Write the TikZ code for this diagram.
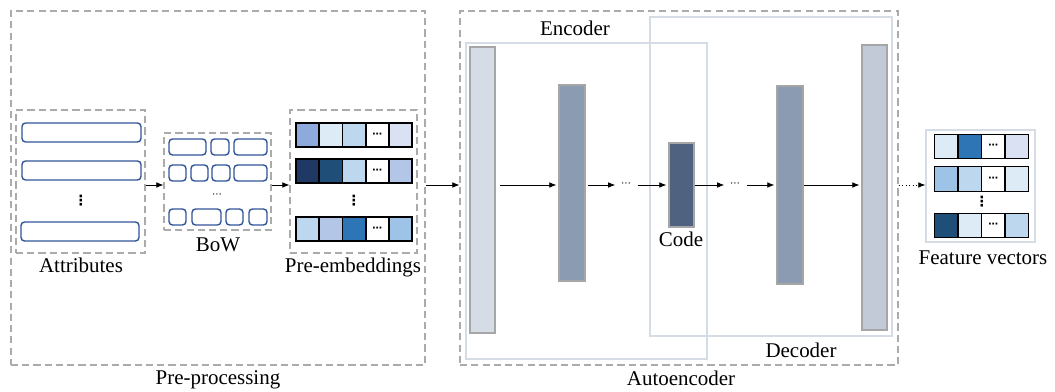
\documentclass[tikz,border=0pt]{standalone}
\usepackage{fontspec}
\setmainfont{Liberation Serif}
\newfontfamily\dotsfont{DejaVu Sans}
\usetikzlibrary{calc,fit,arrows.meta}

\definecolor{dashgray}{HTML}{ABABAB}
\definecolor{aeline}{HTML}{D6DCE5}
\definecolor{wordblue}{HTML}{2F5597}
\definecolor{layergray}{HTML}{A6A6A6}
\definecolor{inlayer}{HTML}{D6DCE5}
\definecolor{hidlayer}{HTML}{8A9BB2}
\definecolor{codelayer}{HTML}{4F6280}
\definecolor{outlayer}{HTML}{C1CAD6}
\definecolor{ca}{HTML}{8EA9DB}
\definecolor{cb}{HTML}{DDEBF7}
\definecolor{cc}{HTML}{BDD7EE}
\definecolor{cd}{HTML}{D9E1F2}
\definecolor{ce}{HTML}{203864}
\definecolor{cf}{HTML}{1F4E79}
\definecolor{cg}{HTML}{B4C6E7}
\definecolor{ch}{HTML}{2E75B6}
\definecolor{ci}{HTML}{9DC3E6}

\tikzset{
  groupbox/.style={draw=dashgray, line width=0.9pt, dash pattern=on 5pt off 3pt, inner sep=0pt},
  aebox/.style={draw=aeline, line width=1pt, inner sep=0pt},
  wordbox/.style={draw=wordblue, line width=1pt, rounded corners=2.5pt, inner sep=0pt},
  layer/.style={draw=layergray, line width=0.8pt, inner sep=0pt},
  pecell/.style={draw=black, line width=1.1pt, minimum width=0.575cm, minimum height=0.6cm, inner sep=0pt, font=\dotsfont\bfseries\fontsize{7}{7}\selectfont},
  fvcell/.style={draw=black, line width=0.9pt, minimum width=0.585cm, minimum height=0.61cm, inner sep=0pt, font=\dotsfont\bfseries\fontsize{7}{7}\selectfont},
  hdots/.style={inner sep=0pt, font=\dotsfont\fontsize{7}{7}\selectfont},
  vdots/.style={inner sep=0pt, font=\dotsfont\bfseries\fontsize{10}{10}\selectfont},
  arr/.style={-{Latex[length=5pt,width=4pt]}, line width=0.5pt},
}

\begin{document}
\begin{tikzpicture}[x=0.025cm, y=-0.025cm, font=\fontsize{14.9}{17}\selectfont]
\useasboundingbox (0,0) rectangle (1055,392);

\node[groupbox, fit={(11,11) (425,365)}] (pre) {};
\node[groupbox, fit={(460,11) (898,365)}] (ae) {};
\node[anchor=base] (prelbl) at (218,385) {Pre-processing};
\node[anchor=base] (aelbl) at (681,386) {Autoencoder};

\node[groupbox, fit={(16,110) (145,253)}] (attr) {};
\node[groupbox, fit={(164,133) (271,230)}] (bow) {};
\node[groupbox, fit={(290,110) (417,253)}] (pe) {};
\node[anchor=base] (attrlbl) at (81,273) {Attributes};
\node[anchor=base] (bowlbl) at (218,252) {BoW};
\node[anchor=base] (pelbl) at (353,273) {Pre-embeddings};

\foreach \ya/\yb/\xa/\xb [count=\i] in {123/142/22/141, 161/180/22/141, 222/241/21/139}
  \node[wordbox, fit={(\xa,\ya) (\xb,\yb)}] (attr-\i) {};
\node[vdots] (attr-dots) at (81,201) {⋮};

\foreach \ya/\yb/\cells [count=\i] in {139/155/{169/206,211/229,234/267},
    165/181/{169/186,191/208,212/230,234/267}, 209/225/{169/186,192/221,226/243,249/267}}
  \foreach \xa/\xb [count=\j] in \cells
    \node[wordbox, fit={(\xa,\ya) (\xb,\yb)}] (bow-\i-\j) {};
\node[hdots] (bow-dots) at (217,196) {⋯};

\foreach \y/\cols [count=\i] in {135/{ca,cb,cc,white,cd}, 171/{ce,cf,cc,white,cg}, 229/{cc,cg,ch,white,ci}}
  \foreach \c [count=\j] in \cols {
    \pgfmathsetmacro\x{284.5+23.2*\j}
    \node[pecell, fill=\c] (pe-\i-\j) at (\x,\y) {\ifnum\j=4 ⋯\fi};
  }
\node[vdots] (pe-dots) at (354,201) {⋮};

\node[aebox, fit={(466,43) (707,359)}] (enc) {};
\node[aebox, fit={(650,17) (892,336)}] (dec) {};
\node[anchor=base] (enclbl) at (575,36) {Encoder};
\node[anchor=base] (declbl) at (801,358) {Decoder};

\node[layer, fill=inlayer, fit={(470,47) (495,333)}] (l1) {};
\node[layer, fill=hidlayer, fit={(559,85) (585,281)}] (l2) {};
\node[layer, fill=codelayer, fit={(669,143) (694,227)}] (code) {};
\node[layer, fill=hidlayer, fit={(777,86) (803,284)}] (l4) {};
\node[layer, fill=outlayer, fit={(862,45) (887,330)}] (l5) {};
\node[anchor=base] (codelbl) at (681,247) {Code};
\node[hdots] (d1) at (626,185) {⋯};
\node[hdots] (d2) at (735,185) {⋯};

\node[aebox, fit={(926,130) (1035,242)}] (fv) {};
\foreach \y/\cols [count=\i] in {146.5/{cb,ch,white,cd}, 179/{ci,cc,white,cb}, 225.5/{cf,cb,white,cc}}
  \foreach \c [count=\j] in \cols {
    \pgfmathsetmacro\x{923+23.4*\j}
    \node[fvcell, fill=\c] (fv-\i-\j) at (\x,\y) {\ifnum\j=3 ⋯\fi};
  }
\node[vdots] (fv-dots) at (982,202) {⋮};
\node[anchor=base] (fvlbl) at (983,265) {Feature vectors};

\coordinate (axis) at (0,185);
\draw[arr] (attr.east |- axis) -- (bow.west |- axis);
\draw[arr] (bow.east |- axis) -- (pe.west |- axis);
\draw[arr] (pre.east |- axis) -- (ae.west |- axis);
\draw[arr, shorten <=3pt, shorten >=1.5pt] (l1.east |- axis) -- (l2.west |- axis);
\draw[arr, shorten <=1.5pt, shorten >=4pt] (l2.east |- axis) -- (d1.west);
\draw[arr, shorten <=4.5pt, shorten >=1.5pt] (d1.east) -- (code.west |- axis);
\draw[arr, shorten >=4pt] (code.east |- axis) -- (d2.west);
\draw[arr, shorten <=4.5pt, shorten >=1.5pt] (d2.east) -- (l4.west |- axis);
\draw[arr, shorten >=1.5pt] (l4.east |- axis) -- (l5.west |- axis);
\draw[arr, dotted] (ae.east |- axis) -- (fv.west |- axis);
\end{tikzpicture}
\end{document}
